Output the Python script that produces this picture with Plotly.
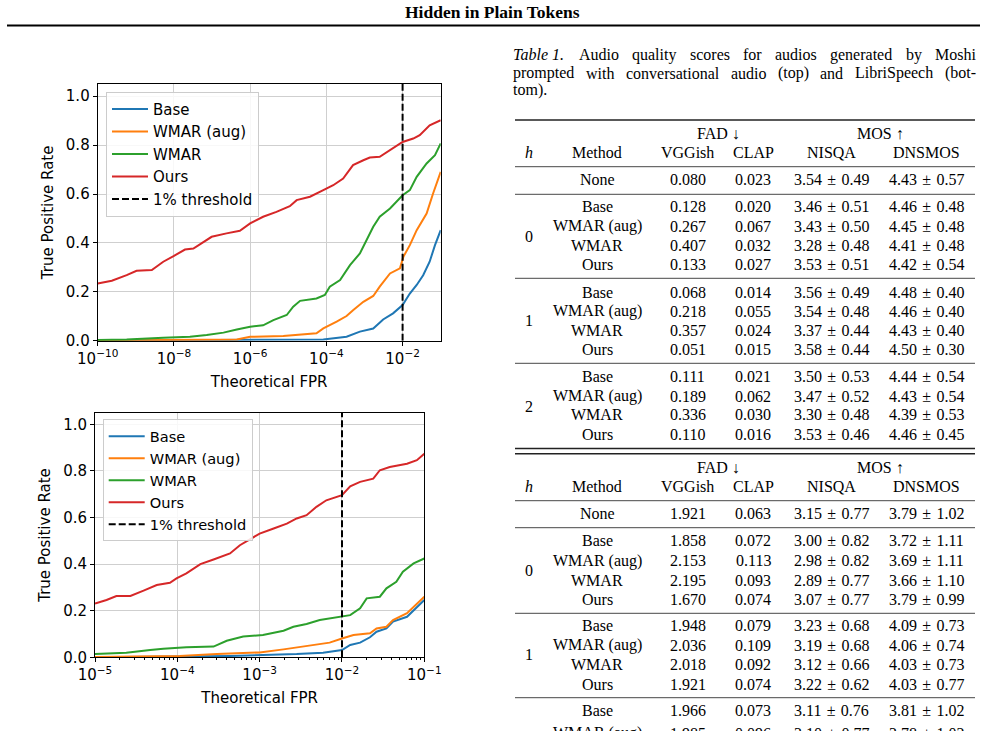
import numpy as np
import plotly.graph_objects as go

W, H = 987, 731

# ---------------- ROC data (log10 FPR, TPR) ----------------
# Top plot: conversational prompts
base1_logfpr = [-10, -4.08, -3.47, -3.12, -2.77, -2.51, -2.25, -2.0, -1.81, -1.63, -1.46, -1.29, -1.15, -1.0]
base1_tpr = [0.0, 0.005, 0.016, 0.037, 0.050, 0.087, 0.112, 0.146, 0.193, 0.228, 0.268, 0.323, 0.391, 0.452]
aug1_logfpr = [-10, -6.35, -6.0, -5.13, -4.26, -4.08, -3.73, -3.47, -3.30, -3.03, -2.77, -2.60, -2.33, -2.07,
               -1.98, -1.81, -1.63, -1.37, -1.20, -1.0]
aug1_tpr = [0.001, 0.005, 0.016, 0.019, 0.030, 0.050, 0.078, 0.101, 0.125, 0.159, 0.183, 0.221, 0.275, 0.296,
            0.343, 0.391, 0.452, 0.520, 0.602, 0.691]
wmar1_logfpr = [-10, -9.24, -8.28, -7.58, -7.14, -6.70, -6.35, -6.0, -5.66, -5.39, -5.04, -4.87, -4.69, -4.26,
                -4.04, -3.91, -3.64, -3.38, -3.12, -2.95, -2.77, -2.60, -2.33, -2.0, -1.81, -1.63, -1.37, -1.15, -1.0]
wmar1_tpr = [0.003, 0.005, 0.012, 0.016, 0.023, 0.033, 0.046, 0.057, 0.063, 0.084, 0.105, 0.139, 0.163, 0.173,
             0.187, 0.221, 0.248, 0.309, 0.357, 0.411, 0.466, 0.507, 0.541, 0.595, 0.616, 0.670, 0.725, 0.759, 0.807]
ours1_logfpr = [-10, -9.63, -9.24, -8.98, -8.58, -8.28, -8.01, -7.71, -7.49, -7.27, -7.01, -6.62, -6.27, -6.0,
                -5.66, -5.31, -4.96, -4.78, -4.43, -4.08, -3.82, -3.56, -3.30, -3.03, -2.86, -2.60, -2.33, -2.0,
                -1.72, -1.55, -1.29, -1.0]
ours1_tpr = [0.234, 0.245, 0.268, 0.286, 0.289, 0.323, 0.346, 0.373, 0.377, 0.398, 0.425, 0.439, 0.450, 0.480,
             0.507, 0.527, 0.550, 0.575, 0.589, 0.616, 0.636, 0.663, 0.718, 0.738, 0.749, 0.752, 0.779, 0.813,
             0.827, 0.841, 0.881, 0.902]

# Bottom plot: LibriSpeech prompts
base2_logfpr = [-5, -3.36, -2.55, -2.23, -2.0, -1.90, -1.78, -1.66, -1.58, -1.46, -1.38, -1.21, -1.0]
base2_tpr = [0.0, 0.006, 0.014, 0.020, 0.031, 0.053, 0.063, 0.086, 0.110, 0.124, 0.153, 0.174, 0.246]
aug2_logfpr = [-5, -3.97, -3.52, -3.0, -2.71, -2.35, -2.15, -2.0, -1.86, -1.66, -1.58, -1.46, -1.38, -1.21, -1.0]
aug2_tpr = [0.001, 0.006, 0.014, 0.021, 0.034, 0.053, 0.063, 0.081, 0.096, 0.103, 0.124, 0.131, 0.160, 0.189, 0.260]
wmar2_logfpr = [-5, -4.62, -4.33, -4.17, -3.89, -3.56, -3.40, -3.20, -2.96, -2.71, -2.59, -2.43, -2.27, -2.0,
                -1.90, -1.78, -1.70, -1.54, -1.46, -1.34, -1.26, -1.13, -1.0]
wmar2_tpr = [0.014, 0.020, 0.031, 0.037, 0.043, 0.046, 0.071, 0.089, 0.096, 0.114, 0.131, 0.143, 0.160, 0.174,
             0.181, 0.210, 0.253, 0.260, 0.296, 0.324, 0.367, 0.403, 0.424]
ours2_logfpr = [-5, -4.86, -4.74, -4.57, -4.41, -4.25, -4.09, -4.01, -3.89, -3.72, -3.56, -3.36, -3.24, -3.08,
                -3.0, -2.83, -2.67, -2.55, -2.43, -2.31, -2.19, -2.0, -1.90, -1.78, -1.62, -1.54, -1.42, -1.21,
                -1.09, -1.0]
ours2_tpr = [0.231, 0.246, 0.263, 0.263, 0.286, 0.310, 0.320, 0.339, 0.360, 0.400, 0.420, 0.446, 0.481, 0.514,
             0.531, 0.553, 0.574, 0.596, 0.610, 0.646, 0.674, 0.696, 0.734, 0.753, 0.767, 0.803, 0.817, 0.831,
             0.846, 0.874]

threshold_fpr = 0.01
series_names = ["Base", "WMAR (aug)", "WMAR", "Ours"]
series_colors = ["#1f77b4", "#ff7f0e", "#2ca02c", "#d62728"]

# ---------------- Table data ----------------
method_order = ["Base", "WMAR (aug)", "WMAR", "Ours"]
top_methods = ["None"] + method_order * 3
top_vggish = [0.080, 0.128, 0.267, 0.407, 0.133, 0.068, 0.218, 0.357, 0.051, 0.111, 0.189, 0.336, 0.110]
top_clap = [0.023, 0.020, 0.067, 0.032, 0.027, 0.014, 0.055, 0.024, 0.015, 0.021, 0.062, 0.030, 0.016]
top_nisqa_mean = [3.54, 3.46, 3.43, 3.28, 3.53, 3.56, 3.54, 3.37, 3.58, 3.50, 3.47, 3.30, 3.53]
top_nisqa_std = [0.49, 0.51, 0.50, 0.48, 0.51, 0.49, 0.48, 0.44, 0.44, 0.53, 0.52, 0.48, 0.46]
top_dnsmos_mean = [4.43, 4.46, 4.45, 4.41, 4.42, 4.48, 4.46, 4.43, 4.50, 4.44, 4.43, 4.39, 4.46]
top_dnsmos_std = [0.57, 0.48, 0.48, 0.48, 0.54, 0.40, 0.40, 0.40, 0.30, 0.54, 0.54, 0.53, 0.45]

bot_methods = ["None"] + method_order * 2 + ["Base", "WMAR (aug)"]
bot_vggish = [1.921, 1.858, 2.153, 2.195, 1.670, 1.948, 2.036, 2.018, 1.921, 1.966, 1.985]
bot_clap = [0.063, 0.072, 0.113, 0.093, 0.074, 0.079, 0.109, 0.092, 0.074, 0.073, 0.096]
bot_nisqa_mean = [3.15, 3.00, 2.98, 2.89, 3.07, 3.23, 3.19, 3.12, 3.22, 3.11, 3.10]
bot_nisqa_std = [0.77, 0.82, 0.82, 0.77, 0.77, 0.68, 0.68, 0.66, 0.62, 0.76, 0.77]
bot_dnsmos_mean = [3.79, 3.72, 3.69, 3.66, 3.79, 4.09, 4.06, 4.03, 4.03, 3.81, 3.78]
bot_dnsmos_std = [1.02, 1.11, 1.11, 1.10, 0.99, 0.73, 0.74, 0.73, 0.77, 1.02, 1.02]

header_top = ["FAD ↓", "MOS ↑"]
header_cols = ["<i>h</i>", "Method", "VGGish", "CLAP", "NISQA", "DNSMOS"]
page_title = "Hidden in Plain Tokens"
caption_lines = [
    ["<i>Table 1.</i>", "Audio", "quality", "scores", "for", "audios", "generated", "by", "Moshi"],
    ["prompted", "with", "conversational", "audio", "(top)", "and", "LibriSpeech", "(bot-"],
    ["tom)."],
]

# ---------------- helpers ----------------
def px(x):
    return x / W


def py(y):
    return 1 - y / H


SERIF = "Liberation Serif, Times New Roman, serif"
SANS = "DejaVu Sans, sans-serif"

fig = go.Figure()

curves1 = [(base1_logfpr, base1_tpr), (aug1_logfpr, aug1_tpr), (wmar1_logfpr, wmar1_tpr), (ours1_logfpr, ours1_tpr)]
curves2 = [(base2_logfpr, base2_tpr), (aug2_logfpr, aug2_tpr), (wmar2_logfpr, wmar2_tpr), (ours2_logfpr, ours2_tpr)]

for curves, xa, ya, lg in [(curves1, "x", "y", "legend"), (curves2, "x2", "y2", "legend2")]:
    for (lx, ty), name, col in zip(curves, series_names, series_colors):
        fig.add_trace(go.Scatter(x=10 ** np.array(lx), y=ty, mode="lines", name=name,
                                 line=dict(color=col, width=2), xaxis=xa, yaxis=ya, legend=lg))
    fig.add_trace(go.Scatter(x=[threshold_fpr, threshold_fpr], y=[0, 1.05], mode="lines", name="1% threshold",
                             line=dict(color="black", width=2, dash="7px,3px"), xaxis=xa, yaxis=ya, legend=lg))

FS = 15
axis_common = dict(showline=True, mirror=True, linecolor="black", linewidth=1, ticks="outside", ticklen=4,
                   tickcolor="black", showgrid=True, gridcolor="#cfcfcf", gridwidth=1, zeroline=False,
                   automargin=False, tickfont=dict(family=SANS, size=FS, color="black"))


def sup_labels(exps):
    return ["10<sup>\u2212%d</sup>" % (-e) for e in exps]


exps1 = [-10, -8, -6, -4, -2]
exps2 = [-5, -4, -3, -2, -1]
minor2 = [m * 10.0 ** e for e in range(-5, -1) for m in range(2, 10)]


def ttl(s, standoff):
    return dict(text=s, font=dict(family=SANS, size=FS, color="black"), standoff=standoff)


fig.update_layout(
    template="none",
    width=W, height=H, margin=dict(l=0, r=0, t=0, b=0, autoexpand=False), paper_bgcolor="white",
    plot_bgcolor="white", showlegend=True,
    xaxis=dict(domain=[px(97.7), px(440.7)], anchor="y", type="log", range=[-10, -1],
               tickvals=[10.0 ** e for e in exps1], ticktext=sup_labels(exps1), title=ttl("Theoretical FPR", 9),
               **axis_common),
    yaxis=dict(domain=[py(340.7), py(84)], anchor="x", range=[0, 1.05], tickvals=[0, 0.2, 0.4, 0.6, 0.8, 1.0],
               tickformat=".1f", title=ttl("True Positive Rate", 8), **axis_common),
    xaxis2=dict(domain=[px(95), px(424.3)], anchor="y2", type="log", range=[-5, -1],
                tickvals=[10.0 ** e for e in exps2], ticktext=sup_labels(exps2),
                minor=dict(tickvals=minor2, ticks="outside", ticklen=2, tickcolor="black", showgrid=False),
                title=ttl("Theoretical FPR", 9), **axis_common),
    yaxis2=dict(domain=[py(657.3), py(412.7)], anchor="x2", range=[0, 1.05], tickvals=[0, 0.2, 0.4, 0.6, 0.8, 1.0],
                tickformat=".1f", title=ttl("True Positive Rate", 8), **axis_common),
    legend=dict(x=px(106), y=py(91.7), xanchor="left", yanchor="top", bgcolor="rgba(255,255,255,0.85)",
                bordercolor="#cccccc", borderwidth=1, font=dict(family=SANS, size=15, color="black"),
                itemwidth=36, tracegroupgap=0),
    legend2=dict(x=px(102.7), y=py(419.3), xanchor="left", yanchor="top", bgcolor="rgba(255,255,255,0.85)",
                 bordercolor="#cccccc", borderwidth=1, font=dict(family=SANS, size=14.6, color="black"),
                 itemwidth=36, tracegroupgap=0),
)

annotations = []
shapes = []


def text(x, y, s, size=16, anchor="center", family=SERIF, bold=False):
    annotations.append(dict(x=px(x), y=py(y), xref="paper", yref="paper", text=("<b>%s</b>" % s) if bold else s,
                            showarrow=False, xanchor=anchor, yanchor="middle",
                            font=dict(family=family, size=size, color="black")))


def hline(x0, x1, y, w=0.8, color="#222222"):
    shapes.append(dict(type="line", xref="paper", yref="paper", x0=px(x0), x1=px(x1), y0=py(y), y1=py(y),
                       line=dict(color=color, width=w)))


# Page header
text(492.5, 12.5, page_title, size=17.5, bold=True)
hline(7, 980, 25.5, w=2, color="black")

# Caption, justified by distributing space between words
CW = {c: 500 for c in "0123456789"}
CW.update({'a': 444, 'b': 500, 'c': 444, 'd': 500, 'e': 444, 'f': 333, 'g': 500, 'h': 500, 'i': 278, 'j': 278,
           'k': 500, 'l': 278, 'm': 778, 'n': 500, 'o': 500, 'p': 500, 'q': 500, 'r': 333, 's': 389, 't': 278,
           'u': 500, 'v': 500, 'w': 722, 'x': 500, 'y': 500, 'z': 444, 'A': 722, 'L': 611, 'M': 889, 'S': 556,
           'T': 611, '.': 250, '(': 333, ')': 333, '-': 333, ' ': 250})


def word_width(wd, size):
    clean = wd.replace("<i>", "").replace("</i>", "")
    return sum(CW.get(c, 600) for c in clean) / 1000 * size


cap_size = 16
cap_left, cap_right = 511, 974
cap_ys = [55, 73, 90]
for li, (words, yy) in enumerate(zip(caption_lines, cap_ys)):
    widths = [word_width(wd, cap_size) for wd in words]
    if li < 2 and len(words) > 1:
        gap = (cap_right - cap_left - sum(widths)) / (len(words) - 1)
    else:
        gap = 0.25 * cap_size
    xcur = cap_left
    for wd, ww in zip(words, widths):
        text(xcur, yy, wd, size=cap_size, anchor="left")
        xcur += ww + gap

# Table columns
col_x = [529, 597, 687.5, 753, 831.5, 926.5]
TL, TR = 515, 975
sp = "\u2004"


def draw_table(hy1, hy2, row_ys, methods, vg, cl, nm, ns, dm, ds, group_labels):
    text(718, hy1, header_top[0])
    text(880, hy1, header_top[1])
    for cx, h in zip(col_x, header_cols):
        text(cx, hy2, h)
    for i, ry in enumerate(row_ys):
        text(col_x[1], ry, methods[i])
        text(col_x[2], ry, "%.3f" % vg[i])
        text(col_x[3], ry, "%.3f" % cl[i])
        text(col_x[4], ry, "%.2f%s±%s%.2f" % (nm[i], sp, sp, ns[i]))
        text(col_x[5], ry, "%.2f%s±%s%.2f" % (dm[i], sp, sp, ds[i]))
    for lab, gy in group_labels:
        text(col_x[0], gy, lab)


top_row_y = [180, 206.7, 226, 245, 264.3, 292.3, 311, 330, 349, 376.7, 396, 415, 434]
bot_row_y = [513.3, 540.7, 560.7, 580, 599, 625.7, 645, 664, 684, 710.7, 733]

draw_table(133, 152.7, top_row_y, top_methods, top_vggish, top_clap, top_nisqa_mean, top_nisqa_std,
           top_dnsmos_mean, top_dnsmos_std, [("0", 236.5), ("1", 320.5), ("2", 406)])
draw_table(467.3, 486, bot_row_y, bot_methods, bot_vggish, bot_clap, bot_nisqa_mean, bot_nisqa_std,
           bot_dnsmos_mean, bot_dnsmos_std, [("0", 570), ("1", 654.5)])

for yy in [120, 448.5, 453.7]:
    hline(TL, TR, yy, w=1.4, color="#222222")
for yy in [166.7, 194.3, 278.3, 363.3, 500.7, 527.7, 613.3, 697.7]:
    hline(TL, TR, yy, w=0.9, color="#333333")

fig.update_layout(annotations=annotations, shapes=shapes)
fig.write_html("out.html")
